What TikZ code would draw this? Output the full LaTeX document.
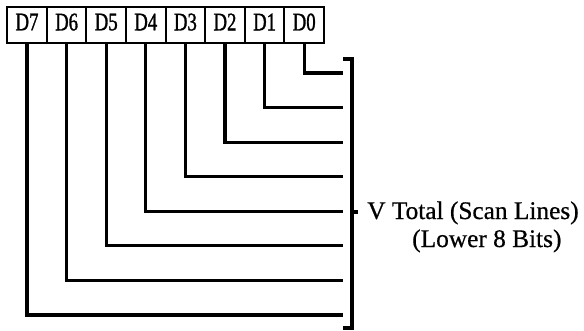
\documentclass[tikz,border=0pt]{standalone}
\usepackage{fontspec}
\setmainfont{Liberation Serif}[FakeBold=0.6]
\newfontfamily\bitfont{Liberation Serif}[FakeStretch=0.74,FakeBold=1.2]
\usetikzlibrary{positioning}

\begin{document}
\begin{tikzpicture}[x=0.75pt,y=-0.75pt,
	bitbox/.style={draw,line width=1.6pt,inner sep=0pt,minimum width=29.7pt,minimum height=27pt,text depth=4.5pt,font=\bitfont\fontsize{19}{23}\selectfont},
	wire/.style={line width=2.3pt},
	caption/.style={anchor=base west,inner sep=0pt,font=\fontsize{19}{23}\selectfont}]
	\useasboundingbox (0,0) rectangle (584,331);
	% register bits, D7 on the left
	\foreach \n in {0,...,7}
		\node[bitbox] (b\n) at ({27+39.6*(7-\n)},25) {D\n};
	% one line per bit, down and across to the bracket
	\foreach \n in {0,...,7} {
		\coordinate (e\n) at (343,{73+34.57*\n});
		\draw[wire] (b\n.south) |- (e\n);
	}
	\coordinate (top) at (343,59);
	\coordinate (bot) at (343,328);
	\coordinate (tip) at (358,212);
	\draw[wire] (top) -- ++(9,0) |- (bot);
	\draw[wire] (tip) -- ++(-6,0);
	\node[caption] (vtotal) at (367,219) {V Total (Scan Lines)};
	\node[caption] (lower) at (412,247) {(Lower 8 Bits)};
\end{tikzpicture}
\end{document}
